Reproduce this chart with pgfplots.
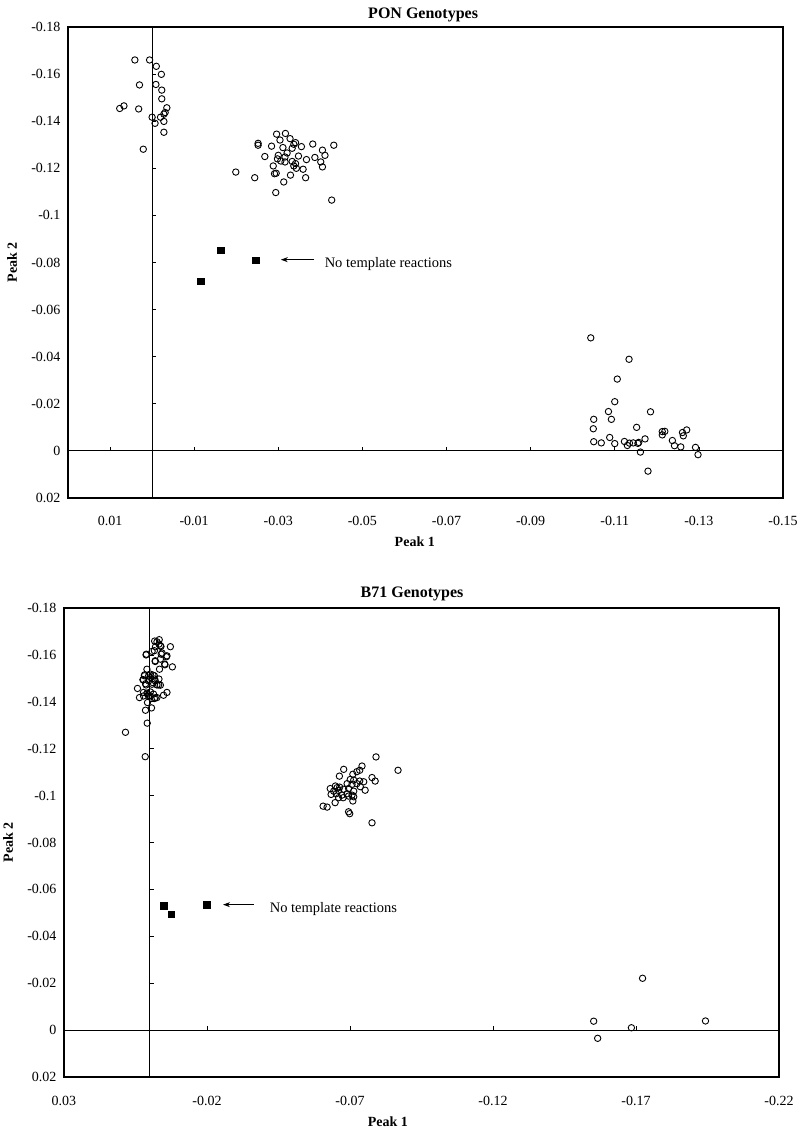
\documentclass[border=0pt]{standalone}
\usepackage{fontspec}
\setmainfont{Liberation Serif}
\usepackage{pgfplots}
\pgfplotsset{compat=1.18}
\usetikzlibrary{arrows.meta}

\pgfplotsset{
  gen/.style={
    scale only axis,
    x dir=reverse, y dir=reverse,
    axis line style={line width=1.3pt},
    major tick length=0pt,
    tick style={draw=none},
    ymin=-0.18, ymax=0.02,
    ytick={-0.18,-0.16,-0.14,-0.12,-0.1,-0.08,-0.06,-0.04,-0.02,0,0.02},
    yticklabels={-0.18,-0.16,-0.14,-0.12,-0.1,-0.08,-0.06,-0.04,-0.02,0,0.02},
    tick label style={font=\fontsize{14}{16}\selectfont},
    xticklabel style={anchor=base, yshift=-28pt},
    yticklabel style={xshift=-4pt},
    label style={font=\fontsize{14}{16}\selectfont\bfseries},
    title style={font=\fontsize{16}{18}\selectfont\bfseries, anchor=base west},
    ylabel style={at={(axis description cs:-0.0783,0.5)}, anchor=center},
    clip=false,
  },
  circ/.style={only marks, mark=o, mark size=3.2pt, mark options={line width=0.9pt, draw=black}},
  sq/.style={only marks, mark=square*, mark size=3.3pt, mark options={draw=black, fill=black}},
}

\begin{document}
\begin{tikzpicture}
\useasboundingbox (0,0) rectangle (800pt,1130pt);

% ---------------- PON ----------------
\begin{axis}[gen,
  at={(68pt,632pt)}, anchor=south west,
  width=715pt, height=471pt,
  xmin=-0.15, xmax=0.02,
  xtick={0.01,-0.01,-0.03,-0.05,-0.07,-0.09,-0.11,-0.13,-0.15},
  xticklabels={0.01,-0.01,-0.03,-0.05,-0.07,-0.09,-0.11,-0.13,-0.15},
  title={PON Genotypes},
  title style={at={(axis description cs:0.415,1)}, yshift=2pt},
  xlabel={Peak 1},
  xlabel style={at={(axis description cs:0.485,0)}, anchor=base, yshift=-49pt},
  ylabel={Peak 2},
]
\draw[line width=0.8pt] (axis cs:0.02,0) -- (axis cs:-0.15,0);
\draw[line width=0.8pt] (axis cs:0,-0.18) -- (axis cs:0,0.02);
\pgfplotsinvokeforeach{0.01,-0.01,-0.03,-0.05,-0.07,-0.09,-0.11,-0.13}{
  \draw[line width=0.7pt] (axis cs:#1,0) -- ++(0pt,4pt);}
\pgfplotsinvokeforeach{-0.16,-0.14,-0.12,-0.1,-0.08,-0.06,-0.04,-0.02}{
  \draw[line width=0.7pt] (axis cs:0,#1) -- ++(4pt,0pt);}

\addplot[circ] coordinates {
(0.0041,-0.1660) (0.0006,-0.1660) (-0.0010,-0.1633) (-0.0022,-0.1599)
(0.0030,-0.1554) (-0.0009,-0.1556) (-0.0023,-0.1532) (-0.0023,-0.1495)
(0.0077,-0.1454) (0.0067,-0.1465) (0.0032,-0.1452) (-0.0035,-0.1457)
(-0.0031,-0.1437) (-0.0028,-0.1430) (0.0000,-0.1417) (-0.0020,-0.1417)
(-0.0007,-0.1391) (-0.0028,-0.1399) (-0.0028,-0.1353) (0.0021,-0.1281)
};
\addplot[circ] coordinates {
(-0.0296,-0.1345) (-0.0317,-0.1348) (-0.0252,-0.1306) (-0.0252,-0.1298)
(-0.0304,-0.1320) (-0.0328,-0.1326) (-0.0341,-0.1309) (-0.0337,-0.1302)
(-0.0284,-0.1294) (-0.0311,-0.1288) (-0.0355,-0.1292) (-0.0382,-0.1303)
(-0.0432,-0.1298) (-0.0405,-0.1277) (-0.0411,-0.1255) (-0.0387,-0.1246)
(-0.0367,-0.1237) (-0.0401,-0.1227) (-0.0405,-0.1206) (-0.0268,-0.1250)
(-0.0300,-0.1255) (-0.0321,-0.1265) (-0.0316,-0.1248) (-0.0306,-0.1231)
(-0.0298,-0.1240) (-0.0288,-0.1210) (-0.0316,-0.1227) (-0.0333,-0.1229)
(-0.0341,-0.1220) (-0.0337,-0.1210) (-0.0343,-0.1200) (-0.0359,-0.1196)
(-0.0291,-0.1177) (-0.0295,-0.1179) (-0.0329,-0.1171) (-0.0365,-0.1160)
(-0.0313,-0.1142) (-0.0244,-0.1160) (-0.0199,-0.1184) (-0.0294,-0.1097)
(-0.0427,-0.1065) (-0.0348,-0.1252) (-0.0333,-0.1285)
};
\addplot[circ] coordinates {
(-0.1043,-0.0480) (-0.1134,-0.0389) (-0.1106,-0.0305) (-0.1100,-0.0209)
(-0.1085,-0.0167) (-0.1185,-0.0166) (-0.1050,-0.0134) (-0.1092,-0.0134)
(-0.1049,-0.0094) (-0.1152,-0.0100) (-0.1050,-0.0039) (-0.1068,-0.0034)
(-0.1088,-0.0057) (-0.1100,-0.0031) (-0.1123,-0.0040) (-0.1130,-0.0023)
(-0.1135,-0.0033) (-0.1144,-0.0034) (-0.1155,-0.0032) (-0.1157,-0.0036)
(-0.1172,-0.0051) (-0.1213,-0.0082) (-0.1219,-0.0083) (-0.1213,-0.0068)
(-0.1261,-0.0078) (-0.1271,-0.0089) (-0.1263,-0.0064) (-0.1237,-0.0044)
(-0.1242,-0.0022) (-0.1257,-0.0017) (-0.1292,-0.0015) (-0.1298,0.0016)
(-0.1161,0.0005) (-0.1179,0.0086)
};
\addplot[sq] coordinates {(-0.0163,-0.0852) (-0.0246,-0.0810) (-0.0115,-0.0720)};
\draw[line width=0.9pt, -{Stealth[length=7pt,width=5pt]}] (axis cs:-0.0385,-0.0812) -- (axis cs:-0.0306,-0.0812);
\node[anchor=west, inner sep=0pt, font=\fontsize{14.5}{17}\selectfont] at (axis cs:-0.0410,-0.0792) {No template reactions};
\end{axis}

% ---------------- B71 ----------------
\begin{axis}[gen,
  at={(64pt,53pt)}, anchor=south west,
  width=715pt, height=469pt,
  xmin=-0.22, xmax=0.03,
  xtick={0.03,-0.02,-0.07,-0.12,-0.17,-0.22},
  xticklabels={0.03,-0.02,-0.07,-0.12,-0.17,-0.22},
  title={B71 Genotypes},
  title style={at={(axis description cs:0.41,1)}, yshift=5pt},
  xlabel={Peak 1},
  xlabel style={at={(axis description cs:0.453,0)}, anchor=base, yshift=-49pt},
  ylabel={Peak 2},
]
\draw[line width=0.8pt] (axis cs:0.03,0) -- (axis cs:-0.22,0);
\draw[line width=0.8pt] (axis cs:0,-0.18) -- (axis cs:0,0.02);
\pgfplotsinvokeforeach{-0.02,-0.07,-0.12,-0.17}{
  \draw[line width=0.7pt] (axis cs:#1,0) -- ++(0pt,4pt);}
\pgfplotsinvokeforeach{-0.16,-0.14,-0.12,-0.1,-0.08,-0.06,-0.04,-0.02}{
  \draw[line width=0.7pt] (axis cs:0,#1) -- ++(4pt,0pt);}

\addplot[circ] coordinates {
(-0.0033,-0.1665) (-0.0025,-0.1656) (-0.0017,-0.1659) (-0.0032,-0.1646)
(-0.0039,-0.1636) (-0.0072,-0.1635) (-0.0020,-0.1635) (0.0013,-0.1600)
(-0.0008,-0.1615) (-0.0040,-0.1603) (-0.0058,-0.1592) (-0.0037,-0.1582)
(-0.0019,-0.1575) (-0.0053,-0.1558) (-0.0079,-0.1549) (-0.0034,-0.1539)
(0.0010,-0.1539) (0.0019,-0.1511) (0.0004,-0.1511) (-0.0011,-0.1514)
(-0.0002,-0.1504) (-0.0017,-0.1497) (-0.0032,-0.1497) (0.0024,-0.1494)
(0.0015,-0.1477) (-0.0008,-0.1475) (-0.0025,-0.1472) (-0.0037,-0.1471)
(0.0043,-0.1457) (-0.0060,-0.1440) (-0.0048,-0.1428) (0.0036,-0.1418)
(0.0022,-0.1425) (0.0008,-0.1433) (-0.0002,-0.1425) (-0.0016,-0.1414)
(-0.0025,-0.1418) (0.0008,-0.1397) (0.0015,-0.1364) (-0.0006,-0.1374)
(0.0009,-0.1309) (0.0085,-0.1270) (0.0016,-0.1166) (0.0018,-0.1515)
(-0.0002,-0.1518) (-0.0016,-0.1511) (0.0022,-0.1494) (0.0004,-0.1489)
(-0.0019,-0.1489) (-0.0010,-0.1482) (0.0013,-0.1472) (-0.0031,-0.1472)
(0.0022,-0.1440) (0.0010,-0.1437) (-0.0002,-0.1442) (-0.0013,-0.1433)
(0.0004,-0.1425) (-0.0019,-0.1417) (-0.0052,-0.1561) (-0.0019,-0.1572)
(-0.0043,-0.1608) (-0.0060,-0.1596) (-0.0037,-0.1639) (-0.0016,-0.1618)
(0.0012,-0.1603)
};
\addplot[circ] coordinates {
(-0.0791,-0.1165) (-0.0742,-0.1126) (-0.0734,-0.1108) (-0.0678,-0.1112)
(-0.0724,-0.1102) (-0.0868,-0.1108) (-0.0710,-0.1091) (-0.0663,-0.1083)
(-0.0777,-0.1077) (-0.0788,-0.1062) (-0.0701,-0.1069) (-0.0713,-0.1066)
(-0.0734,-0.1062) (-0.0748,-0.1059) (-0.0690,-0.1051) (-0.0707,-0.1048)
(-0.0724,-0.1051) (-0.0649,-0.1041) (-0.0664,-0.1036) (-0.0736,-0.1038)
(-0.0753,-0.1023) (-0.0631,-0.1030) (-0.0643,-0.1019) (-0.0660,-0.1022)
(-0.0678,-0.1027) (-0.0695,-0.1030) (-0.0713,-0.1019) (-0.0634,-0.1005)
(-0.0652,-0.1008) (-0.0672,-0.1002) (-0.0690,-0.1008) (-0.0707,-0.1002)
(-0.0660,-0.0991) (-0.0676,-0.0991) (-0.0695,-0.0998) (-0.0713,-0.0995)
(-0.0648,-0.0970) (-0.0710,-0.0977) (-0.0606,-0.0955) (-0.0620,-0.0951)
(-0.0695,-0.0931) (-0.0699,-0.0923) (-0.0777,-0.0884) (-0.0655,-0.1034)
};
\addplot[circ] coordinates {
(-0.1552,-0.0038) (-0.1566,0.0035) (-0.1684,-0.0010) (-0.1723,-0.0221) (-0.1943,-0.0039)
};
\addplot[sq] coordinates {(-0.0048,-0.0531) (-0.0075,-0.0495) (-0.0200,-0.0535)};
\draw[line width=0.9pt, -{Stealth[length=7pt,width=5pt]}] (axis cs:-0.0363,-0.0535) -- (axis cs:-0.0256,-0.0535);
\node[anchor=west, inner sep=0pt, font=\fontsize{14.5}{17}\selectfont] at (axis cs:-0.0419,-0.0518) {No template reactions};
\end{axis}
\end{tikzpicture}
\end{document}
